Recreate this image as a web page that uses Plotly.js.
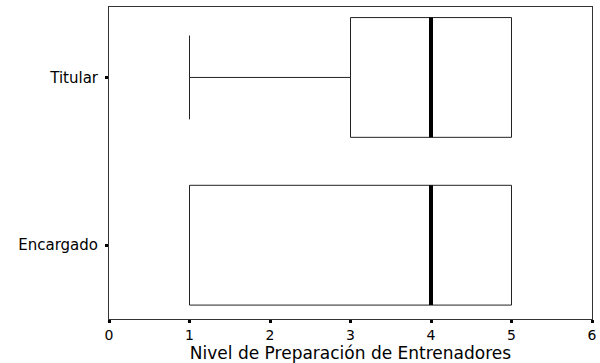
<!DOCTYPE html>
<html>
<head>
<meta charset="utf-8">
<script src="https://cdn.plot.ly/plotly-3.0.1.min.js"></script>
<style>
  html, body { margin: 0; padding: 0; background: #fff; }
  #chart { width: 600px; height: 363px; }
</style>
</head>
<body>
<div id="chart"></div>
<script>
// Categories, bottom to top
var groups = ["Encargado", "Titular"]

// Box statistics
var lowerFence = [1, 1]
var q1 = [1, 3]
var medians = [4, 4]
var q3 = [5, 5]
var upperFence = [5, 5]

var xTicks = [0, 1, 2, 3, 4, 5, 6]

var font = "DejaVu Sans, Liberation Sans, Arial, sans-serif"

// main boxes
var boxes = {
    type: "box",
    orientation: "h",
    y: groups,
    q1: q1,
    median: medians,
    q3: q3,
    lowerfence: lowerFence,
    upperfence: upperFence,
    width: 0.714,
    fillcolor: "rgba(0,0,0,0)",
    line: {color: "#222", width: 1},
    whiskerwidth: 0.7,
    boxpoints: false,
    hoverinfo: "skip",
    showlegend: false
}

// thick median line drawn as a flat box on top
var medianLines = {
    type: "box",
    orientation: "h",
    y: groups,
    q1: medians,
    median: medians,
    q3: medians,
    lowerfence: medians,
    upperfence: medians,
    width: 0.714,
    fillcolor: "rgba(0,0,0,0)",
    line: {color: "#000", width: 4},
    whiskerwidth: 0,
    boxpoints: false,
    hoverinfo: "skip",
    showlegend: false
}

var layout = {
    width: 600,
    height: 363,
    margin: {l: 109, r: 8, t: 7, b: 44},
    paper_bgcolor: "#fff",
    plot_bgcolor: "#fff",
    boxmode: "overlay",
    font: {family: font, size: 15, color: "#000"},
    xaxis: {
        range: [0, 6],
        tickvals: xTicks,
        ticktext: xTicks.map(String),
        showgrid: false,
        zeroline: false,
        showline: true,
        mirror: true,
        linecolor: "#333",
        linewidth: 1,
        ticks: "outside",
        ticklen: 3,
        tickwidth: 3,
        tickcolor: "#000",
        tickfont: {family: font, size: 14},
        title: {text: "Nivel de Preparación de Entrenadores", font: {family: font, size: 17}, standoff: 0}
    },
    yaxis: {
        type: "category",
        range: [-0.44, 1.42],
        showgrid: false,
        zeroline: false,
        showline: true,
        mirror: true,
        linecolor: "#333",
        linewidth: 1,
        ticks: "outside",
        ticklen: 3,
        tickwidth: 3,
        tickcolor: "#000",
        ticklabelstandoff: 4,
        tickfont: {family: font, size: 15}
    }
}

Plotly.newPlot("chart", [boxes, medianLines], layout, {staticPlot: true})
</script>
</body>
</html>
